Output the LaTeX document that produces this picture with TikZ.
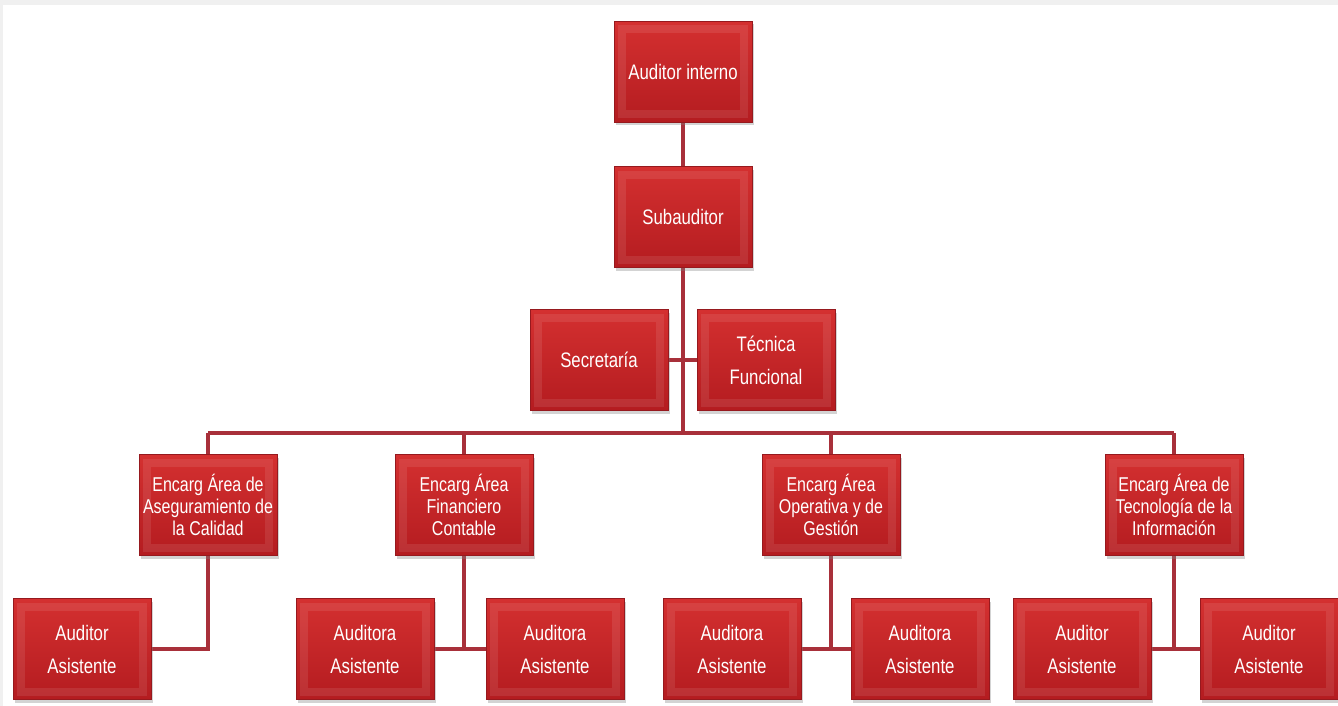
\documentclass[tikz,border=0pt]{standalone}
\usepackage{fontspec}
\usetikzlibrary{shadows,backgrounds}
\newfontfamily\boxfont[FakeStretch=0.8]{Liberation Sans}
\definecolor{boxtop}{RGB}{212,48,48}
\definecolor{boxbot}{RGB}{180,28,32}
\definecolor{boxedge}{RGB}{150,25,30}
\definecolor{linkred}{RGB}{168,48,58}
\begin{document}
\begin{tikzpicture}[x=1pt,y=-1pt,
  orgbox/.style={rectangle, minimum width=138pt, minimum height=101pt, inner sep=1pt,
    text=white, align=center, top color=boxtop, bottom color=boxbot,
    draw=boxedge, line width=0.8pt,
    drop shadow={opacity=0.35, shadow xshift=2pt, shadow yshift=-3pt},
    font=\boxfont\fontsize{21}{33}\selectfont,
    path picture={\draw[line width=8pt, draw=white, opacity=0.09]
      ([shift={(8pt,-8pt)}]path picture bounding box.north west) rectangle
      ([shift={(-8pt,8pt)}]path picture bounding box.south east);}},
  areabox/.style={orgbox, font=\boxfont\fontsize{20}{22}\selectfont},
  link/.style={draw=linkred, line width=3.2pt}]
\useasboundingbox (0,0) rectangle (1338,706);
\fill[gray!12] (0,0) rectangle (1338,5);
\fill[gray!12] (0,0) rectangle (3,706);

\node[orgbox] (ai) at (683,72) {Auditor interno};
\node[orgbox] (sub) at (683,217) {Subauditor};
\node[orgbox] (sec) at (599,360) {Secretaría};
\node[orgbox] (tec) at (766,360) {Técnica\\Funcional};

\node[areabox] (ea) at (208,505) {Encarg Área de\\Aseguramiento de\\la Calidad};
\node[areabox] (ef) at (464,505) {Encarg Área\\Financiero\\Contable};
\node[areabox] (eo) at (831,505) {Encarg Área\\Operativa y de\\Gestión};
\node[areabox] (et) at (1174,505) {Encarg Área de\\Tecnología de la\\Información};

\node[orgbox] (a1) at (82,649) {Auditor\\Asistente};
\node[orgbox] (f1) at (365,649) {Auditora\\Asistente};
\node[orgbox] (f2) at (555,649) {Auditora\\Asistente};
\node[orgbox] (o1) at (732,649) {Auditora\\Asistente};
\node[orgbox] (o2) at (920,649) {Auditora\\Asistente};
\node[orgbox] (t1) at (1082,649) {Auditor\\Asistente};
\node[orgbox] (t2) at (1269,649) {Auditor\\Asistente};

\coordinate (bus) at (683,433);
\coordinate (fj) at (464,650);
\coordinate (oj) at (831,650);
\coordinate (tj) at (1174,650);

\begin{scope}[on background layer]
\draw[link] (ai.south) -- (sub.north);
\draw[link] (sub.south) -- (bus);
\draw[link] (sec.east) -- (tec.west);
\draw[link] (ea.north |- bus) -- (et.north |- bus);
\draw[link] (ea.north) -- (ea.north |- bus);
\draw[link] (ef.north) -- (ef.north |- bus);
\draw[link] (eo.north) -- (eo.north |- bus);
\draw[link] (et.north) -- (et.north |- bus);
\draw[link] (ea.south) |- (a1.east);
\draw[link] (ef.south) -- (fj);
\draw[link] (f1.east) -- (f2.west);
\draw[link] (eo.south) -- (oj);
\draw[link] (o1.east) -- (o2.west);
\draw[link] (et.south) -- (tj);
\draw[link] (t1.east) -- (t2.west);
\end{scope}
\end{tikzpicture}
\end{document}
